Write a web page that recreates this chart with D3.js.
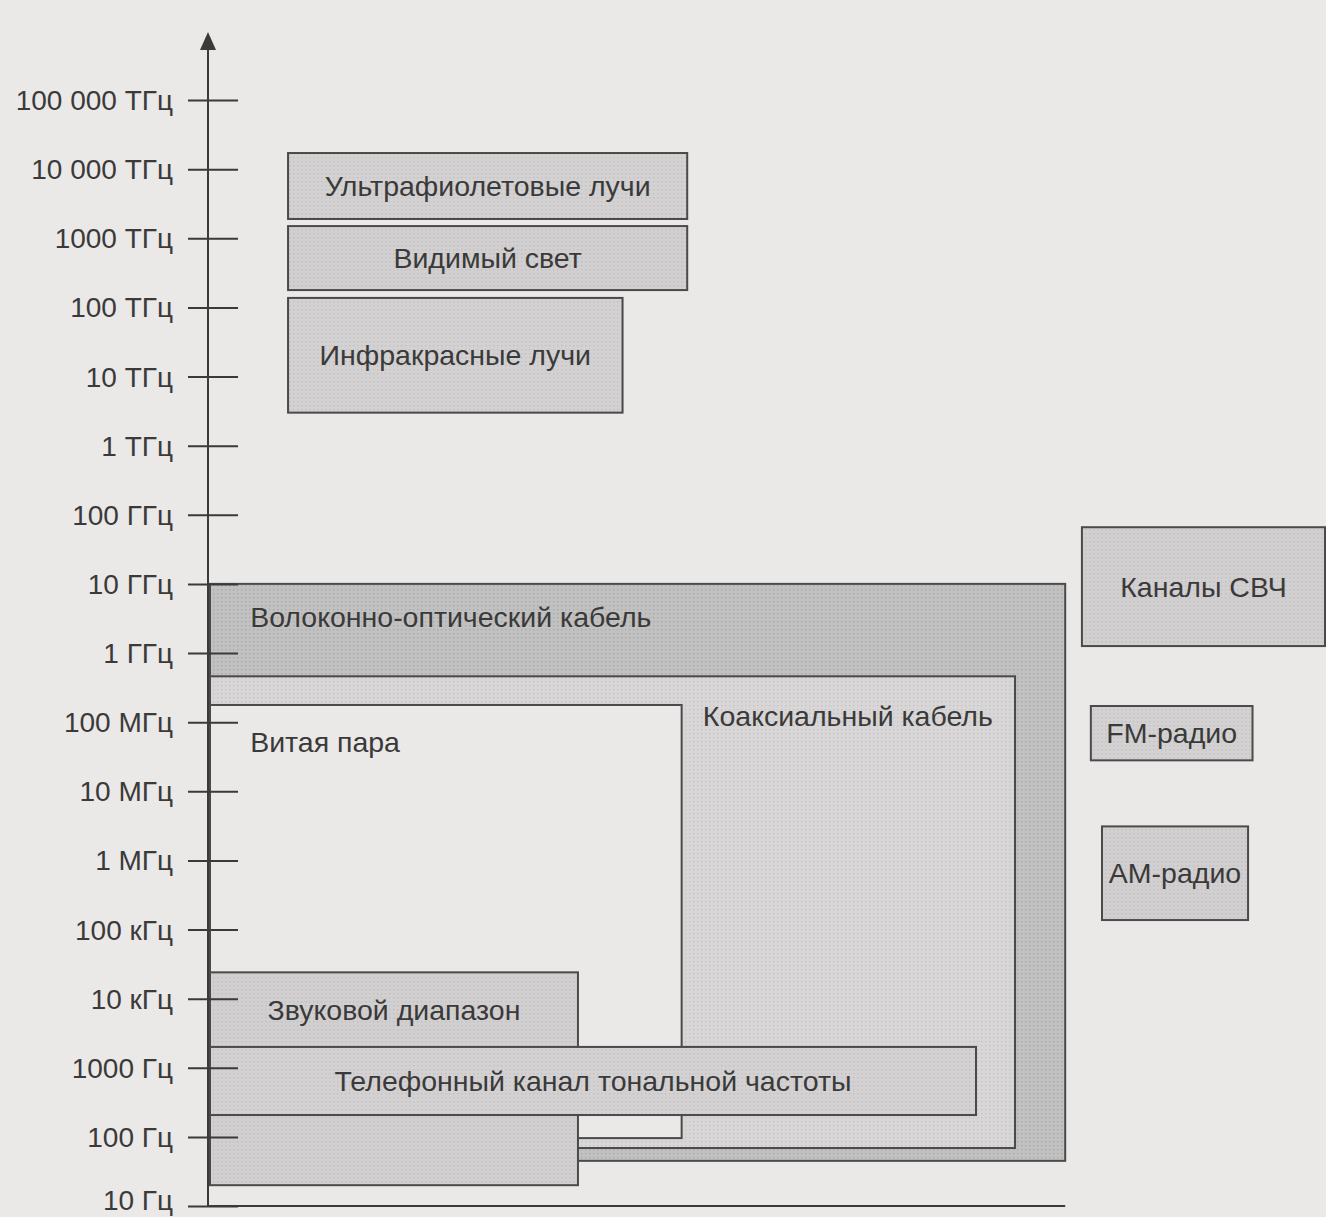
<!DOCTYPE html>
<html>
<head>
<meta charset="utf-8">
<script src="https://cdn.jsdelivr.net/npm/d3@7"></script>
<style>
  html, body { margin: 0; padding: 0; background: #ebe8e8; }
  svg { display: block; }
  text { font-family: 'Liberation Sans', Arial, sans-serif; fill: #3a3a3a; }
</style>
</head>
<body>
<div id="chart"><svg width="1326" height="1217"></svg></div>
<script>
// frequency axis (Hz)
const TICK_VALUES = [1e1, 1e2, 1e3, 1e4, 1e5, 1e6, 1e7, 1e8, 1e9, 1e10, 1e11, 1e12, 1e13, 1e14, 1e15, 1e16, 1e17];
const TICK_LABELS = ['10 Гц', '100 Гц', '1000 Гц', '10 кГц', '100 кГц', '1 МГц', '10 МГц', '100 МГц',
  '1 ГГц', '10 ГГц', '100 ГГц', '1 ТГц', '10 ТГц', '100 ТГц', '1000 ТГц', '10 000 ТГц', '100 000 ТГц'];

// bands: name, upper and lower frequency (Hz)
const BANDS = ['Волоконно-оптический кабель', 'Коаксиальный кабель', 'Витая пара',
  'Звуковой диапазон', 'Телефонный канал тональной частоты',
  'Ультрафиолетовые лучи', 'Видимый свет', 'Инфракрасные лучи',
  'Каналы СВЧ', 'FM-радио', 'AM-радио'];
const BAND_HIGH = [1.0e10, 4.6e8, 1.77e8, 2.4e4, 2.0e3, 1.71e16, 1.5e15, 1.37e14, 6.6e10, 1.71e8, 3.1e6];
const BAND_LOW = [45, 69, 96, 20, 207, 1.9e15, 1.78e14, 3.0e12, 1.26e9, 2.8e7, 1.37e5];

// horizontal layout (0..100 units across the plot), label placement and fill
const BOX_LEFT = [0, 0, 0, 0, 0, 7, 7, 7, 78.2, 79, 80];
const BOX_RIGHT = [76.7, 72.2, 42.3, 33, 68.7, 42.8, 42.8, 37, 100, 93.5, 93.1];
const LABEL_X = [3.6, 44.2, 3.6, null, null, null, null, null, null, null, null]; // null = centred
const LABEL_DY = [33, 40, 37, 39, null, null, null, null, null, null, null]; // null = middle of box
const FILLS = ['#c2c1c1', '#d8d6d6', '#ebe8e8', '#d1cfcf', '#d3d1d1', '#d3d1d1', '#d1cfcf', '#d3d1d1', '#d1cfcf', '#d3d1d1', '#d1cfcf'];

const SVG = d3.select('#chart svg');
const WIDTH = +SVG.attr('width');
const HEIGHT = +SVG.attr('height');
const AXIS_X = 208;
const FONT = "'Liberation Sans', Arial, sans-serif";

SVG.append('rect').attr('width', WIDTH).attr('height', HEIGHT).attr('fill', '#ebe8e8');

const defs = SVG.append('defs');
const pat = defs.append('pattern').attr('id', 'dots')
  .attr('width', 4).attr('height', 4).attr('patternUnits', 'userSpaceOnUse');
pat.append('rect').attr('x', 1).attr('y', 1).attr('width', 1.4).attr('height', 1.4).attr('fill', '#9a9898');

const y = d3.scaleLog().domain([1e1, 1e17]).range([1206, 100]);
const x = d3.scaleLinear().domain([0, 100]).range([AXIS_X + 2, 1325]);

const data = BANDS.map((name, i) => ({
  name,
  high: BAND_HIGH[i],
  low: BAND_LOW[i],
  left: BOX_LEFT[i],
  right: BOX_RIGHT[i],
  labelX: LABEL_X[i],
  labelDy: LABEL_DY[i],
  fill: FILLS[i],
  id: i,
}));

// boxes
const BOX_G = SVG.append('g');
const box = BOX_G.selectAll('g').data(data).join('g');
box.append('rect')
  .attr('x', (d) => x(d.left))
  .attr('y', (d) => y(d.high))
  .attr('width', (d) => x(d.right) - x(d.left))
  .attr('height', (d) => y(d.low) - y(d.high))
  .attr('fill', (d) => d.fill);
box.filter((d) => d.id !== 2).append('rect')
  .attr('x', (d) => x(d.left))
  .attr('y', (d) => y(d.high))
  .attr('width', (d) => x(d.right) - x(d.left))
  .attr('height', (d) => y(d.low) - y(d.high))
  .attr('fill', 'url(#dots)')
  .attr('opacity', (d) => (d.id === 0 ? 0.6 : 0.3));
box.append('rect')
  .attr('x', (d) => x(d.left))
  .attr('y', (d) => y(d.high))
  .attr('width', (d) => x(d.right) - x(d.left))
  .attr('height', (d) => y(d.low) - y(d.high))
  .attr('fill', 'none')
  .attr('stroke', '#4a4a4a')
  .attr('stroke-width', 2);

// labels
SVG.append('g').selectAll('text').data(data).join('text')
  .text((d) => d.name)
  .attr('x', (d) => (d.labelX === null ? (x(d.left) + x(d.right)) / 2 : x(d.labelX)))
  .attr('y', (d) => {
    if (d.id === 3) return (y(d.high) + y(BAND_HIGH[4])) / 2;
    return d.labelDy === null ? (y(d.high) + y(d.low)) / 2 : y(d.high) + d.labelDy;
  })
  .attr('dy', '0.35em')
  .style('text-anchor', (d) => (d.labelX === null ? 'middle' : 'start'))
  .style('font-size', '28.5px');

// axis
const AXIS_G = SVG.append('g')
  .attr('transform', `translate(${AXIS_X}, 0)`)
  .call(d3.axisLeft(y).tickValues(TICK_VALUES).tickFormat((d, i) => TICK_LABELS[i]).tickSize(20).tickPadding(15));
AXIS_G.select('.domain').remove();
AXIS_G.selectAll('.tick line').attr('x2', 30).attr('x1', -20).attr('stroke', '#3a3a3a').attr('stroke-width', 2);
AXIS_G.selectAll('.tick text').style('font-size', '28px').attr('fill', '#3a3a3a')
  .style('font-family', FONT).attr('dy', (d, i) => (i === 0 ? '0.12em' : '0.34em'));

SVG.append('line')
  .attr('x1', AXIS_X).attr('x2', AXIS_X)
  .attr('y1', y(1e1)).attr('y2', 46)
  .attr('stroke', '#3a3a3a').attr('stroke-width', 2);

// arrow head
SVG.append('path')
  .attr('d', d3.line()([[AXIS_X - 8, 50], [AXIS_X, 32], [AXIS_X + 8, 50]]) + 'Z')
  .attr('fill', '#3a3a3a');

// baseline
SVG.append('line')
  .attr('x1', AXIS_X).attr('x2', x(BOX_RIGHT[0]))
  .attr('y1', y(1e1)).attr('y2', y(1e1))
  .attr('stroke', '#3a3a3a').attr('stroke-width', 2);
</script>
</body>
</html>
